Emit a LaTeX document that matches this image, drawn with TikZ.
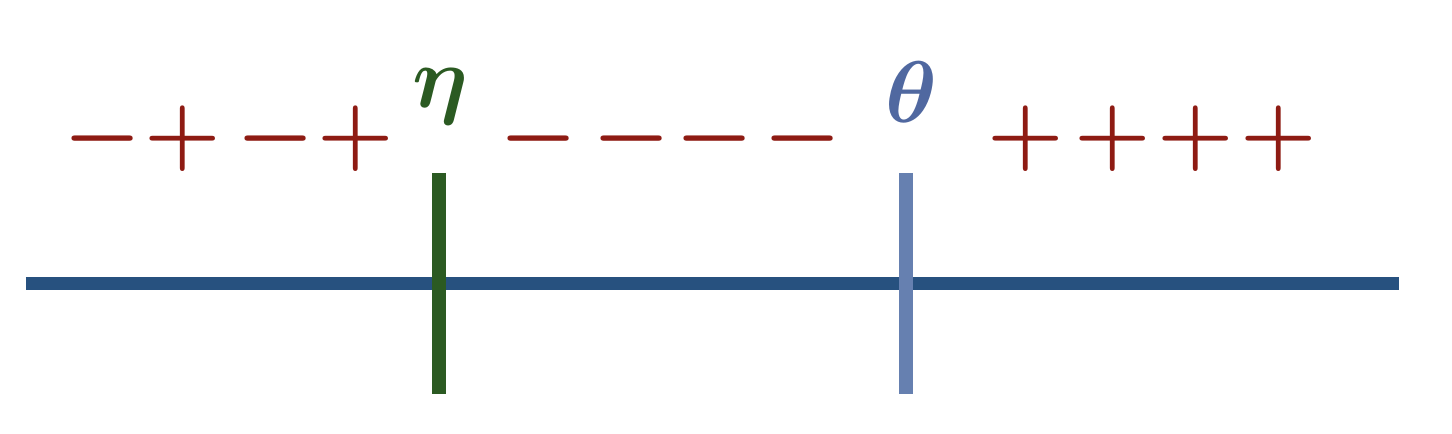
\documentclass[tikz,border=0pt]{standalone}
\usepackage{amsmath}
\definecolor{axisblue}{HTML}{27517F}
\definecolor{etagreen}{HTML}{2B5A22}
\definecolor{thetablue}{HTML}{6680B0}
\definecolor{labelblue}{HTML}{5068A0}
\definecolor{signred}{HTML}{8E1B13}
\tikzset{
	axisline/.style={draw=axisblue, line width=0.135cm},
	cutline/.style={line width=0.135cm},
	signnode/.style={text=signred, inner sep=0pt, anchor=center, font=\fontsize{23.5}{28}\selectfont\boldmath},
	cutlabel/.style={inner sep=0pt, anchor=center, font=\fontsize{23}{27}\selectfont}
}
\begin{document}
\begin{tikzpicture}
	\useasboundingbox (0,0) rectangle (14.52,4.34);
	% Axis and cut points:
	\coordinate (L) at (0.26,1.503);
	\coordinate (R) at (13.99,1.503);
	\coordinate (etatop) at (4.39,2.61);
	\coordinate (etabot) at (4.39,0.40);
	\coordinate (thetatop) at (9.06,2.61);
	\coordinate (thetabot) at (9.06,0.40);
	\draw[axisline] (L) -- (R);
	\draw[cutline, draw=etagreen] (etatop) -- (etabot);
	\draw[cutline, draw=thetablue] (thetatop) -- (thetabot);
	% Labels:
	\node[cutlabel, text=etagreen] (eta) at (4.40,3.37){$\boldsymbol{\eta}$};
	\node[cutlabel, text=labelblue] (theta) at (9.11,3.42){$\boldsymbol{\theta}$};
	% Signs:
	\foreach \x/\s [count=\i] in {1.025/-, 1.825/+, 2.76/-, 3.555/+, 5.39/-, 6.32/-, 7.15/-, 8.025/-, 10.255/+, 11.125/+, 11.955/+, 12.785/+}
		\node[signnode] (s\i) at (\x,2.95){$\s$};
\end{tikzpicture}
\end{document}
